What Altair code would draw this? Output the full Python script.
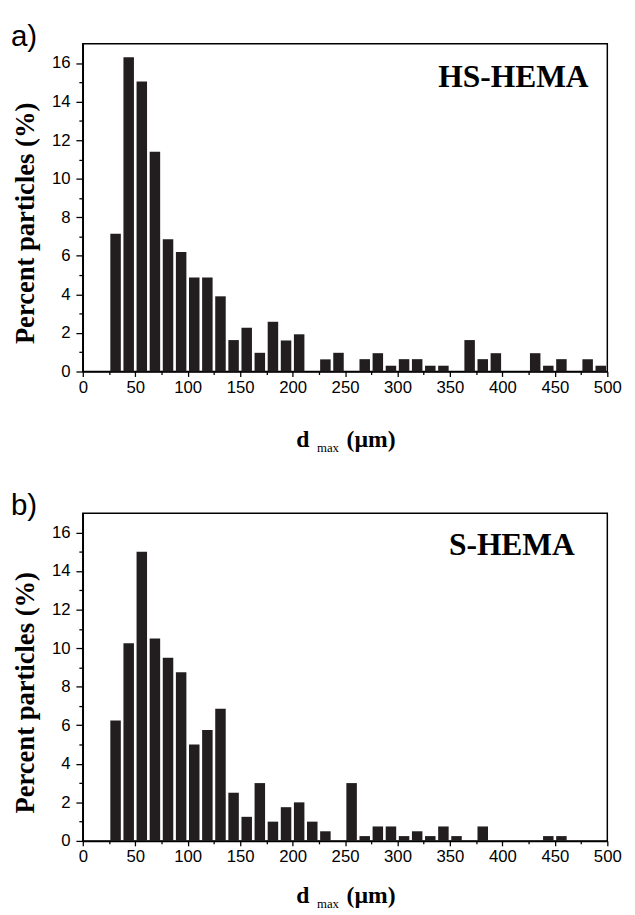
import altair as alt
import pandas as pd

# bin centres of the 12.5 um classes (um)
bin_centers = [31.25, 43.75, 56.25, 68.75, 81.25, 93.75, 106.25, 118.75, 131.25, 143.75,
               156.25, 168.75, 181.25, 193.75, 206.25, 218.75, 231.25, 243.75, 256.25, 268.75,
               281.25, 293.75, 306.25, 318.75, 331.25, 343.75, 356.25, 368.75, 381.25, 393.75,
               406.25, 418.75, 431.25, 443.75, 456.25, 468.75, 481.25, 493.75]

hs_hema = [7.15, 16.3, 15.05, 11.4, 6.86, 6.2, 4.88, 4.88, 3.9, 1.63,
           2.27, 0.97, 2.58, 1.61, 1.93, 0, 0.63, 0.97, 0, 0.64,
           0.95, 0.3, 0.64, 0.64, 0.3, 0.3, 0, 1.63, 0.64, 0.95,
           0, 0, 0.95, 0.3, 0.64, 0, 0.64, 0.3]

s_hema = [6.25, 10.25, 15.0, 10.5, 9.5, 8.75, 5.0, 5.75, 6.85, 2.5,
          1.25, 3.0, 1.0, 1.75, 2.0, 1.0, 0.5, 0, 3.0, 0.25,
          0.75, 0.75, 0.25, 0.5, 0.25, 0.75, 0.25, 0, 0.75, 0,
          0, 0, 0, 0.25, 0.25, 0, 0, 0]

x_ticks = [0, 25, 50, 75, 100, 125, 150, 175, 200, 225, 250, 275, 300,
           325, 350, 375, 400, 425, 450, 475, 500]
y_ticks = [0, 1, 2, 3, 4, 5, 6, 7, 8, 9, 10, 11, 12, 13, 14, 15, 16]
x_domain = [0, 500]
y_domain = [0, 17]

panel_letters = ["a)", "b)"]
sample_names = ["HS-HEMA", "S-HEMA"]
name_right_gap = [19, 33]
name_y = [34, 32]
xtitle_offset = [77, 63]

W, H = 533, 333
BAR_COLOR = "#221e1f"
SANS = "Liberation Sans"
SERIF = "Liberation Serif"


def one_text(txt):
    return alt.Chart(pd.DataFrame({"t": [txt]}))


def panel(values, letter, name, gap, ny, toff):
    df = pd.DataFrame({"center": bin_centers, "pct": values})
    df = df[df["pct"] > 0]

    x_axis = alt.Axis(
        values=x_ticks,
        labelExpr="datum.value % 50 === 0 ? datum.label : ''",
        tickSize={"condition": {"test": "datum.value % 50 === 0", "value": 5}, "value": 3},
        title=None, labelFont=SANS, labelFontSize=17, labelColor="black",
        tickColor="black", tickWidth=1.3, domainColor="black", domainWidth=1.5,
        labelPadding=3, labelOverlap=False, grid=False, labelFlush=False,
    )
    y_axis = alt.Axis(
        values=y_ticks,
        labelExpr="datum.value % 2 === 0 ? datum.label : ''",
        tickSize={"condition": {"test": "datum.value % 2 === 0", "value": 7}, "value": 4},
        title="Percent particles (%)", titleFont=SERIF, titleFontWeight="bold",
        titleFontSize=27, titleColor="black", titlePadding=12, titleY=182,
        labelFont=SANS, labelFontSize=17, labelColor="black",
        tickColor="black", tickWidth=1.3, domainColor="black", domainWidth=1.5,
        labelPadding=6, labelOverlap=False, grid=False, labelFlush=False,
    )

    bars = alt.Chart(df).transform_calculate(
        lo="datum.center - 5", hi="datum.center + 5"
    ).mark_bar(color=BAR_COLOR).encode(
        x=alt.X("lo:Q", scale=alt.Scale(domain=x_domain, nice=False, zero=False), axis=x_axis),
        x2="hi:Q",
        y=alt.Y("pct:Q", scale=alt.Scale(domain=y_domain, nice=False), axis=y_axis),
        y2=alt.datum(0),
    )

    letter_t = one_text(letter).mark_text(
        font=SANS, fontSize=30, align="left", baseline="alphabetic", color="black"
    ).encode(text="t:N", x=alt.value(-73), y=alt.value(2))

    name_t = one_text(name).mark_text(
        font=SERIF, fontSize=32, fontWeight="bold", align="right", baseline="middle",
        color="black"
    ).encode(text="t:N", x=alt.value(W - gap), y=alt.value(ny))

    d_t = one_text("d").mark_text(
        font=SERIF, fontSize=24, fontWeight="bold", align="left", baseline="alphabetic",
        color="black"
    ).encode(text="t:N", x=alt.value(217), y=alt.value(H + toff))
    max_t = one_text("max").mark_text(
        font=SERIF, fontSize=13, align="left", baseline="alphabetic", color="black"
    ).encode(text="t:N", x=alt.value(238), y=alt.value(H + toff + 5))
    um_t = one_text("(µm)").mark_text(
        font=SERIF, fontSize=24, fontWeight="bold", align="left", baseline="alphabetic",
        color="black"
    ).encode(text="t:N", x=alt.value(268), y=alt.value(H + toff))

    return alt.layer(bars, letter_t, name_t, d_t, max_t, um_t).properties(width=W, height=H)


top = panel(hs_hema, panel_letters[0], sample_names[0], name_right_gap[0], name_y[0], xtitle_offset[0])
bottom = panel(s_hema, panel_letters[1], sample_names[1], name_right_gap[1], name_y[1], xtitle_offset[1])

chart = alt.vconcat(top, bottom, spacing=35).properties(
    padding={"left": 2, "top": 6, "right": 5, "bottom": 2},
    background="white",
).configure_view(stroke="black", strokeWidth=1.5)

chart.save("out.html", embed_options={"renderer": "svg", "actions": False})
